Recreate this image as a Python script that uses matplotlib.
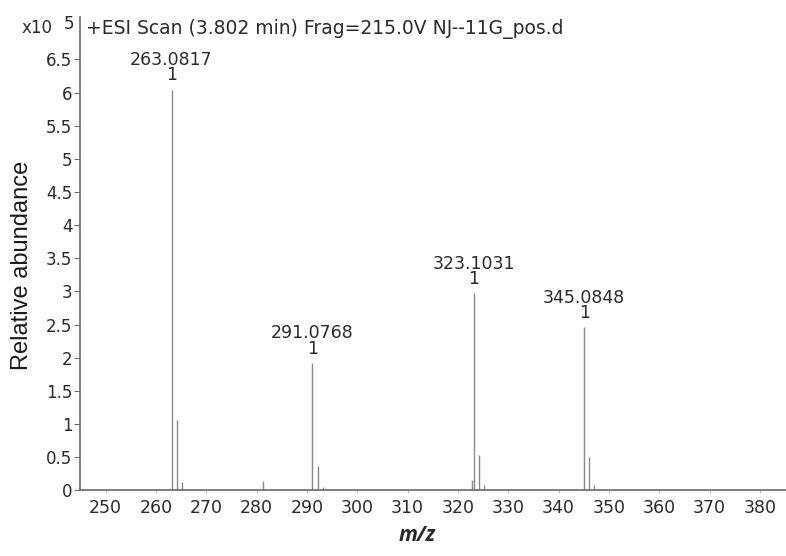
import matplotlib
matplotlib.use("Agg")
import matplotlib.pyplot as plt

plt.rcParams['font.family'] = ['DejaVu Sans']

# Centroided peaks (m/z, abundance in units of 1e5 counts)
mz = [263.0817, 264.2, 265.2, 281.2, 291.0768, 292.1, 293.1,
      322.8, 323.1031, 324.1, 325.1, 345.0848, 346.1, 347.1]
abundance = [6.04, 1.06, 0.12, 0.14, 1.92, 0.36, 0.05,
             0.16, 2.97, 0.53, 0.08, 2.46, 0.50, 0.08]

# Labelled base peaks: m/z and charge state
labelled_mz = [263.0817, 291.0768, 323.1031, 345.0848]
labelled_charge = [1, 1, 1, 1]

x_ticks = list(range(250, 381, 10))
y_ticks = [i * 0.5 for i in range(14)]

fig = plt.figure(figsize=(7.86, 5.56), dpi=100)
ax = fig.add_axes([0.1018, 0.1181, 0.8982, 0.8513])

gray = '#8a8a8a'
text_col = '#2a2a2a'
ax.vlines(mz, 0, abundance, color=gray, linewidth=1.0)

for m, z in zip(labelled_mz, labelled_charge):
    h = abundance[mz.index(m)]
    ax.annotate(f"{m:.4f}\n{z}", xy=(m, h), xytext=(0, 4),
                textcoords='offset points', ha='center', va='bottom',
                fontsize=12.5, color=text_col, linespacing=0.8)

ax.set_xlim(244.9, 385.2)
ax.set_ylim(0, 7.14)
ax.set_xticks(x_ticks)
ax.set_yticks(y_ticks)
ax.set_yticklabels([f"{v:g}" for v in y_ticks])

for side in ('top', 'right'):
    ax.spines[side].set_visible(False)
for side in ('left', 'bottom'):
    ax.spines[side].set_color('#6a6a6a')
    ax.spines[side].set_linewidth(1.2)

ax.tick_params(axis='y', length=4, color='#6a6a6a', labelsize=12,
               labelcolor=text_col, pad=1.5)
ax.tick_params(axis='x', length=2, color='#bbbbbb', labelsize=12.5,
               labelcolor=text_col, pad=4)

ax.text(0.009, 0.995, "+ESI Scan (3.802 min) Frag=215.0V NJ--11G_pos.d",
        transform=ax.transAxes, ha='left', va='top', fontsize=13.5,
        color=text_col)
fig.text(0.028, 0.949, "x10", ha='left', va='center', fontsize=12,
         color=text_col)
fig.text(0.081, 0.956, "5", ha='left', va='center', fontsize=12,
         color=text_col)

fig.text(0.028, 0.523, "Relative abundance", rotation=90, ha='center',
         va='center', fontsize=17, color='#1a1a1a',
         family=['Liberation Sans', 'DejaVu Sans'])
fig.text(0.5305, 0.036, "m/z", ha='center', va='center', fontsize=15,
         fontweight='bold', style='italic', color=text_col,
         family=['Open Sans', 'DejaVu Sans'])

fig.savefig("out.png", dpi=100)
